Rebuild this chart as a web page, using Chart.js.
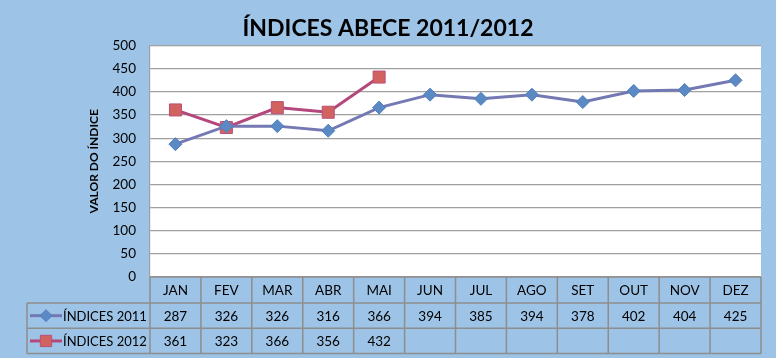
<!DOCTYPE html>
<html>
<head>
<meta charset="utf-8">
<script src="https://cdn.jsdelivr.net/npm/chart.js@4.4.0/dist/chart.umd.min.js"></script>
<style>
html,body{margin:0;padding:0;background:#9dc3e6;}
#wrap{width:776px;height:358px;}
</style>
</head>
<body>
<div id="wrap"><canvas id="c" width="776" height="358"></canvas></div>
<script>
const months = ['JAN','FEV','MAR','ABR','MAI','JUN','JUL','AGO','SET','OUT','NOV','DEZ'];
const indices2011 = [287, 326, 326, 316, 366, 394, 385, 394, 378, 402, 404, 425];
const indices2012 = [361, 323, 366, 356, 432, null, null, null, null, null, null, null];
const seriesNames = ['ÍNDICES 2011', 'ÍNDICES 2012'];
const yTicks = [0, 50, 100, 150, 200, 250, 300, 350, 400, 450, 500];

const FONT = 'Lato, "Open Sans", sans-serif';
const BG = '#9dc3e6';
const GRID = '#a0a0a0';
const TABLE_LINE = '#8e8e8e';

const c2011 = { line: '#7479b3', fill: '#5b89c4', border: '#5080bf' };
const c2012 = { line: '#b4477c', fill: '#d1625f', border: '#b8507a' };

const bgPlugin = {
  id: 'bg',
  beforeDraw(chart) {
    const { ctx, chartArea: a } = chart;
    ctx.save();
    ctx.fillStyle = BG;
    ctx.fillRect(0, 0, chart.width, chart.height);
    ctx.fillStyle = '#ffffff';
    ctx.fillRect(a.left, a.top, a.right - a.left, a.bottom - a.top);
    ctx.restore();
  }
};

const tablePlugin = {
  id: 'dataTable',
  afterDraw(chart) {
    const { ctx, chartArea: a, scales } = chart;
    const x = scales.x;
    const colW = x.getPixelForValue(1) - x.getPixelForValue(0);
    const left = a.left, right = a.right;
    const legendLeft = 27;
    const rowH = 25.3;
    const r0 = a.bottom, r1 = r0 + rowH + 0.7, r2 = r1 + rowH, r3 = r2 + rowH;
    ctx.save();
    ctx.strokeStyle = TABLE_LINE;
    ctx.lineWidth = 1.5;
    ctx.beginPath();
    ctx.moveTo(left, r0); ctx.lineTo(right, r0);
    [r1, r2, r3].forEach(y => { ctx.moveTo(legendLeft, y); ctx.lineTo(right, y); });
    ctx.moveTo(legendLeft, r1); ctx.lineTo(legendLeft, r3);
    for (let i = 0; i <= months.length; i++) {
      const xx = x.getPixelForValue(i) - colW / 2;
      ctx.moveTo(xx, r0); ctx.lineTo(xx, r3);
    }
    ctx.stroke();

    ctx.fillStyle = '#000';
    ctx.font = '13.5px ' + FONT;
    ctx.textAlign = 'center';
    ctx.textBaseline = 'middle';
    months.forEach((m, i) => {
      const cx = x.getPixelForValue(i);
      ctx.fillText(m, cx, (r0 + r1) / 2 + 1);
      if (indices2011[i] != null) ctx.fillText(String(indices2011[i]), cx, (r1 + r2) / 2 + 1);
      if (indices2012[i] != null) ctx.fillText(String(indices2012[i]), cx, (r2 + r3) / 2 + 1);
    });

    // legend keys
    const keys = [[c2011, 'rectRot', 6, (r1 + r2) / 2, seriesNames[0]], [c2012, 'rect', 8, (r2 + r3) / 2, seriesNames[1]]];
    keys.forEach(([col, style, rad, cy, name]) => {
      ctx.strokeStyle = col.line;
      ctx.lineWidth = 3;
      ctx.beginPath();
      ctx.moveTo(30, cy); ctx.lineTo(62, cy);
      ctx.stroke();
      ctx.fillStyle = col.fill;
      ctx.strokeStyle = col.border;
      ctx.lineWidth = 1;
      Chart.helpers.drawPoint(ctx, { pointStyle: style, radius: rad, rotation: 0, borderWidth: 1 }, 46, cy);
      ctx.fillStyle = '#000';
      ctx.textAlign = 'left';
      ctx.font = '13px ' + FONT;
      ctx.fillText(name, 63, cy + 1);
    });
    ctx.restore();
  }
};

new Chart(document.getElementById('c'), {
  type: 'line',
  data: {
    labels: months,
    datasets: [
      {
        label: seriesNames[0],
        data: indices2011,
        borderColor: c2011.line,
        borderWidth: 3,
        pointStyle: 'rectRot',
        pointRadius: 6.5,
        pointBackgroundColor: c2011.fill,
        pointBorderColor: c2011.border,
        pointBorderWidth: 1,
        tension: 0
      },
      {
        label: seriesNames[1],
        data: indices2012,
        borderColor: c2012.line,
        borderWidth: 3,
        pointStyle: 'rect',
        pointRadius: 8.5,
        pointBackgroundColor: c2012.fill,
        pointBorderColor: c2012.border,
        pointBorderWidth: 1,
        tension: 0,
        spanGaps: false
      }
    ]
  },
  options: {
    responsive: false,
    animation: false,
    layout: { padding: { left: 15, right: 15, top: 0, bottom: 81 } },
    plugins: {
      legend: { display: false },
      tooltip: { enabled: false },
      title: {
        display: true,
        text: 'ÍNDICES ABECE 2011/2012',
        color: '#000',
        font: { family: FONT, size: 23, weight: 'bold' },
        padding: { top: 15, bottom: 3 }
      }
    },
    scales: {
      x: {
        type: 'category',
        offset: true,
        grid: { display: false, drawTicks: false },
        border: { display: false },
        ticks: { display: false }
      },
      y: {
        min: 0,
        max: 500,
        afterBuildTicks(scale) { scale.ticks = yTicks.map(v => ({ value: v })); },
        afterFit(scale) { scale.width = 135; },
        grid: { color: GRID, lineWidth: 1.2, drawTicks: false },
        border: { display: true, color: GRID, width: 1.2 },
        ticks: { color: '#000', font: { family: FONT, size: 13.5 }, padding: 14 },
        title: {
          display: true,
          text: 'VALOR DO ÍNDICE',
          color: '#000',
          font: { family: FONT, size: 12, weight: 'bold' },
          padding: { top: 72, bottom: 0 }
        }
      }
    }
  },
  plugins: [bgPlugin, tablePlugin]
});
</script>
</body>
</html>
